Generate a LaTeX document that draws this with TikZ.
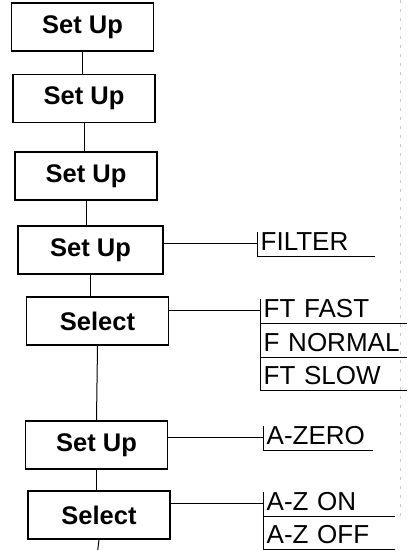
\documentclass[tikz,border=0pt]{standalone}
\usepackage{fontspec}
\setmainfont{Liberation Sans}
\usepackage{tikz}
\usetikzlibrary{positioning}

\begin{document}
\begin{tikzpicture}[x=1pt, y=-1pt, every node/.style={font=\fontsize{26}{31}\selectfont},
  menu/.style={draw, line width=1.3pt, minimum width=142pt, minimum height=48pt, inner sep=0pt, font=\fontsize{25.5}{30}\selectfont\bfseries},
  opt/.style={anchor=south west, text width=#1, align=left, inner xsep=3.5pt, inner ysep=5pt, text height=14pt, text depth=0pt},
  link/.style={line width=1pt}]
  \useasboundingbox (0,0) rectangle (414,550);
  \node[menu] (set1) at (82.5,27) {Set Up};
  \node[menu] (set2) at (84,98.5) {Set Up};
  \node[menu] (set3) at (86,176) {Set Up};
  \node[menu, minimum width=145pt] (set4) at (90.5,250) {Set Up};
  \node[menu] (sel1) at (97.5,321) {Select};
  \node[menu] (set5) at (96.5,445) {Set Up};
  \node[menu] (sel2) at (99,515) {Select};
  \coordinate (tail) at (97,556);
  \node[opt=111pt] (filter) at (257,256) {FILTER};
  \node[opt=140pt] (ftfast) at (260,323) {FT FAST};
  \node[opt=140pt] (fnormal) at (260,357) {F NORMAL};
  \node[opt=140pt] (ftslow) at (260,390) {FT SLOW};
  \node[opt=103pt] (azero) at (263,450) {A-ZERO};
  \node[opt=125pt] (azon) at (263,516) {A-Z ON};
  \node[opt=125pt] (azoff) at (263,549) {A-Z OFF};
  \draw[link] (set1.south) -- (set1.south |- set2.north); \draw[link] (set2.south) -- (set2.south |- set3.north);
  \draw[link] (set3.south) -- (set3.south |- set4.north); \draw[link] (set4.south) -- (set4.south |- sel1.north);
  \draw[link] (sel1.south) -- (set5.north); \draw[link] (set5.south) -- (set5.south |- sel2.north);
  \draw[link] (sel2.south) -- (tail);
  \draw[link] (set4.east |- filter.west) -- (filter.west);
  \draw[link] (sel1.east |- ftfast.west) -- (ftfast.west);
  \draw[link] (set5.east |- azero.west) -- (azero.west);
  \draw[link] (sel2.east |- azon.west) -- (azon.west);
  \draw[link] (filter.north west) -- (filter.south west);
  \draw[link] (ftfast.north west) -- (ftslow.south west);
  \draw[link] (azero.north west) -- (azero.south west);
  \draw[link] (azon.north west) -- ([yshift=-4pt]azoff.south west);
  \foreach \o in {filter,ftfast,fnormal,ftslow,azero,azon,azoff}
    \draw[link] (\o.south west) -- (\o.south east);
  \draw[gray!40, line width=0.4pt, dash pattern=on 3pt off 6pt] (400,0) -- (400,520);
\end{tikzpicture}
\end{document}
